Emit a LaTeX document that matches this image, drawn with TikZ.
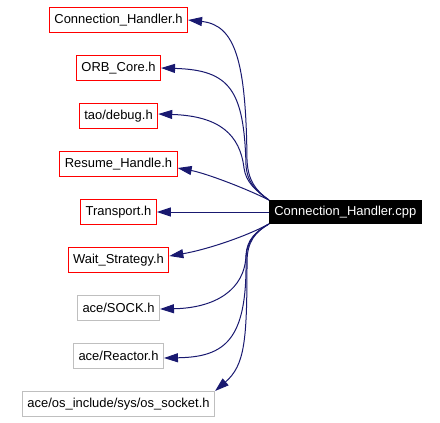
\documentclass[tikz,border=0pt]{standalone}
\usepackage{fontspec}
\setmainfont{Liberation Sans}
\usetikzlibrary{arrows.meta,positioning}
\definecolor{inclblue}{RGB}{25,25,112}
\definecolor{sysgray}{RGB}{191,191,191}
\tikzset{
    file/.style={
                draw,
                line width=1bp,
                inner xsep=5bp,
                minimum height=25bp,
                font=\fontsize{13pt}{15pt}\selectfont
            },
        localhdr/.style={
                file,
                draw=red
            },
        syshdr/.style={
                file,
                draw=sysgray
            },
        source/.style={
                file,
                fill=black,
                text=white,
                minimum height=23bp
            },
        include/.style={
                draw=inclblue,
                line width=1bp,
                -{Triangle[length=14bp,width=9bp]}
            },
}
\begin{document}
\begin{tikzpicture}[x=1bp,y=-1bp]
  \useasboundingbox (0,0) rectangle (440,422);
  % Headers
  \node[localhdr] (hConn) at (118.5,20) {Connection\_Handler.h};
  \node[localhdr,below=22bp of hConn] (hOrb) {ORB\_Core.h};
  \node[localhdr,below=22bp of hOrb] (hDebug) {tao/debug.h};
  \node[localhdr,below=22bp of hDebug] (hResume) {Resume\_Handle.h};
  \node[localhdr,below=22bp of hResume] (hTransport) {Transport.h};
  \node[localhdr,below=22bp of hTransport] (hWait) {Wait\_Strategy.h};
  \node[syshdr,below=22bp of hWait] (hSock) {ace/SOCK.h};
  \node[syshdr,below=22bp of hSock] (hReactor) {ace/Reactor.h};
  \node[syshdr,below=22bp of hReactor] (hSocket) {ace/os\_include/sys/os\_socket.h};
  % Source file
  \node[source,right=112bp of hTransport] (cpp) {Connection\_Handler.cpp};
  % Includes
  \draw[include] (cpp.north west) .. controls (255,190) and (248,180) .. (247,160)
    .. controls (246,60) and (235,25) .. (hConn.east);
  \draw[include] (cpp.north west) .. controls (255,190) and (247,182) .. (246,165)
    .. controls (244,90) and (230,70) .. (hOrb.east);
  \draw[include] (cpp.north west) .. controls (255,190) and (246,182) .. (244,168)
    .. controls (240,135) and (220,116) .. ([yshift=2bp]hDebug.east);
  \draw[include] (cpp.north west) .. controls (245,188) and (205,173) .. ([yshift=-4bp]hResume.east);
  \draw[include] (cpp.west) -- (hTransport.east);
  \draw[include] (cpp.south west) .. controls (245,237) and (205,250) .. ([yshift=4bp]hWait.east);
  \draw[include] (cpp.south west) .. controls (255,232) and (247,240) .. (246,255)
    .. controls (245,290) and (215,308) .. ([yshift=-1bp]hSock.east);
  \draw[include] (cpp.south west) .. controls (255,232) and (246,242) .. (246,260)
    .. controls (247,340) and (225,357) .. ([yshift=-2bp]hReactor.east);
  \draw[include] (cpp.south west) .. controls (255,232) and (247,242) .. (247,262)
    .. controls (247,340) and (245,365) .. (hSocket.north east);
\end{tikzpicture}
\end{document}
